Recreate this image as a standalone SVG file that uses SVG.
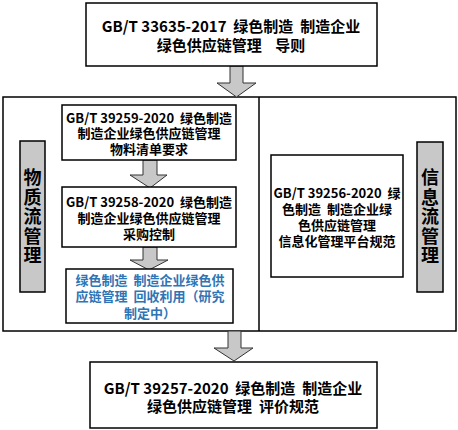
<svg xmlns="http://www.w3.org/2000/svg" width="458" height="430" viewBox="0 0 458 430">
<style>
.box{fill:#fff;stroke:#000;stroke-width:1.5}
.bar{fill:#c8c8c8;stroke:#000;stroke-width:1.5}
.arr{fill:#c8c8c8;stroke:#333;stroke-width:1}
text{font-family:"Noto Sans CJK SC",sans-serif;font-weight:bold;fill:#000;text-anchor:middle;dominant-baseline:central;white-space:pre}
.t15{font-size:15px}
.t13{font-size:13px}
.v{font-size:18px;writing-mode:vertical-rl;letter-spacing:1.5px}
.blue{fill:#2e75b6}
</style>
<rect width="458" height="430" fill="#fff"/>
<g id="container">
<rect x="3" y="97" width="453" height="234" class="box"/>
<line x1="259" y1="97" x2="259" y2="331" stroke="#000" stroke-width="1.5"/>
</g>
<g id="connectors">
<polygon class="arr" points="230,66 243,66 243,83 256,83 236.5,97 217,83 230,83"/>
<polygon class="arr" points="143,160 157,160 157,175 167,175 150,188 130,175 143,175"/>
<polygon class="arr" points="143,247 157,247 157,260 168,260 149,270 130,260 143,260"/>
<polygon class="arr" points="228,331 241,331 241,348 253,348 234,361 214,348 228,348"/>
</g>
<g id="n1">
<rect x="86" y="3" width="291" height="63" class="box"/>
<text class="t15"><tspan x="231" y="25">GB/T 33635-2017  绿色制造  制造企业</tspan><tspan x="231" y="44">绿色供应链管理    导则</tspan></text>
</g>
<g id="n2">
<rect x="62" y="105" width="174" height="55" class="box"/>
<text class="t13"><tspan x="149" y="117">GB/T 39259-2020  绿色制造</tspan><tspan x="149" y="132">制造企业绿色供应链管理</tspan><tspan x="149" y="148">物料清单要求</tspan></text>
</g>
<g id="n3">
<rect x="62" y="187" width="174" height="60" class="box"/>
<text class="t13"><tspan x="149" y="201">GB/T 39258-2020  绿色制造</tspan><tspan x="149" y="217">制造企业绿色供应链管理</tspan><tspan x="149" y="233">采购控制</tspan></text>
</g>
<g id="n4">
<rect x="66" y="269" width="167" height="54" class="box"/>
<text class="t13 blue"><tspan x="150" y="279">绿色制造  制造企业绿色供</tspan><tspan x="150" y="295">应链管理  回收利用（研究</tspan><tspan x="150" y="312">制定中）</tspan></text>
</g>
<g id="n5">
<rect x="271" y="155" width="132" height="122" class="box"/>
<text class="t13"><tspan x="337" y="192">GB/T 39256-2020  绿</tspan><tspan x="337" y="208">色制造  制造企业绿</tspan><tspan x="337" y="224">色供应链管理</tspan><tspan x="337" y="240">信息化管理平台规范</tspan></text>
</g>
<g id="bar-left">
<rect x="20" y="141" width="25" height="151" class="bar"/>
<text class="v" x="32.5" y="217">物质流管理</text>
</g>
<g id="bar-right">
<rect x="417" y="142" width="26" height="150" class="bar"/>
<text class="v" x="430" y="217">信息流管理</text>
</g>
<g id="n6">
<rect x="90" y="362" width="287" height="66" class="box"/>
<text class="t15"><tspan x="233" y="387">GB/T 39257-2020  绿色制造  制造企业</tspan><tspan x="233" y="405">绿色供应链管理  评价规范</tspan></text>
</g>
</svg>
